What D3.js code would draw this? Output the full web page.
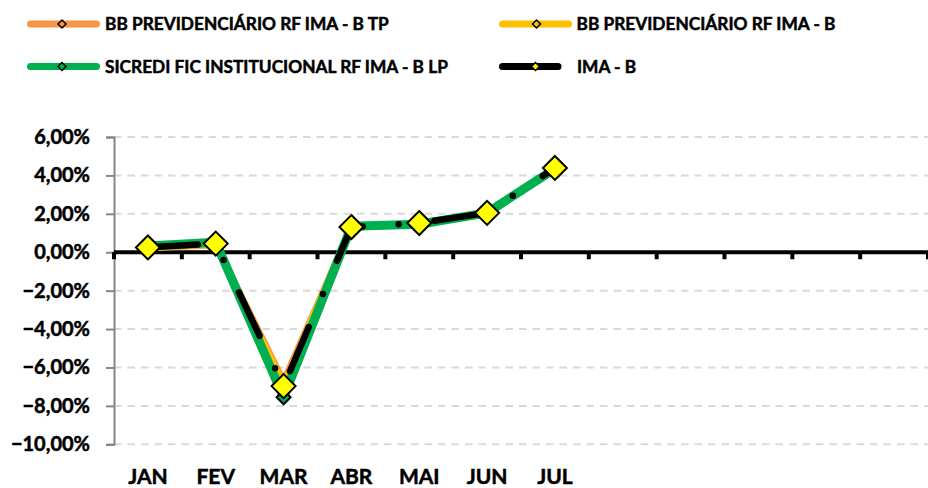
<!DOCTYPE html>
<html>
<head>
<meta charset="utf-8">
<script src="https://cdn.jsdelivr.net/npm/d3@7"></script>
<style>
  body { margin: 0; background: #fff; }
  text { font-family: Lato, "Open Sans", sans-serif; font-weight: bold; fill: #000; stroke: #000; stroke-width: 0.5px; }
</style>
</head>
<body>
<div id="chart"></div>
<script>
const WIDTH = 928,
  HEIGHT = 488;

// months on the category axis (12 slots, only Jan-Jul labelled)
const months = ["JAN", "FEV", "MAR", "ABR", "MAI", "JUN", "JUL", "", "", "", "", ""];
const yTicks = [6, 4, 2, 0, -2, -4, -6, -8, -10];

// monthly returns, %
const bbTP = [0.22, 0.40, -6.75, 1.30, 1.50, 2.00, 4.35];
const bbIMAB = [0.23, 0.43, -6.95, 1.29, 1.51, 2.03, 4.36];
const sicredi = [0.33, 0.52, -7.55, 1.35, 1.46, 2.05, 4.35];
const imaB = [0.25, 0.45, -6.97, 1.31, 1.52, 2.05, 4.39];

const seriesNames = [
  "BB PREVIDENCIÁRIO RF IMA - B TP",
  "BB PREVIDENCIÁRIO RF IMA - B",
  "SICREDI FIC INSTITUCIONAL RF IMA - B LP",
  "IMA - B"
];

const series = [
  { name: seriesNames[0], values: bbTP, color: "#f79646", width: 7, marker: 7, fill: "#f79646" },
  { name: seriesNames[1], values: bbIMAB, color: "#ffc000", width: 7, marker: 7, fill: "#ffc000" },
  { name: seriesNames[2], values: sicredi, color: "#00b050", width: 9, marker: 7, fill: "#00b050" },
  { name: seriesNames[3], values: imaB, color: "#000000", width: 6.5, marker: 12, fill: "#ffff00", dash: true }
];

const plot = { left: 114, right: 928, top: 137, bottom: 444.3 };

var svg = d3
  .select("#chart")
  .append("svg")
  .attr("width", WIDTH)
  .attr("height", HEIGHT);

var x = d3
  .scaleBand()
  .domain(d3.range(months.length))
  .range([plot.left, plot.right]);

var y = d3.scaleLinear().domain([-10, 6]).range([plot.bottom, plot.top]);

// dashed gridlines
svg
  .append("g")
  .selectAll("line")
  .data(yTicks.filter(function(d) { return d !== 0; }))
  .enter()
  .append("line")
  .attr("x1", plot.left)
  .attr("x2", plot.right)
  .attr("y1", function(d) { return y(d); })
  .attr("y2", function(d) { return y(d); })
  .attr("stroke", "#d9d9d9")
  .attr("stroke-width", 2)
  .attr("stroke-dasharray", "7.5,6");

// value axis
var yAxis = svg
  .append("g")
  .attr("transform", "translate(" + plot.left + ",0)")
  .call(
    d3.axisLeft(y)
      .tickValues(yTicks)
      .tickSize(8)
      .tickPadding(16)
      .tickFormat(function(d) { return d3.format(".2f")(d).replace(".", ",") + "%"; })
  );
yAxis.select(".domain").attr("stroke", "#868686").attr("stroke-width", 2);
yAxis.selectAll(".tick line").attr("stroke", "#868686").attr("stroke-width", 2);
yAxis.selectAll(".tick text").attr("font-size", 20).attr("font-family", "Lato").attr("font-weight", "bold").attr("fill", "#000");

// category axis sits on the zero line
var zeroY = y(0);
var boundaries = d3.range(months.length + 1).map(function(i) {
  return plot.left + i * x.step();
});
svg
  .append("g")
  .selectAll("line")
  .data(boundaries)
  .enter()
  .append("line")
  .attr("x1", function(d) { return d; })
  .attr("x2", function(d) { return d; })
  .attr("y1", zeroY)
  .attr("y2", zeroY + 7)
  .attr("stroke", "#000")
  .attr("stroke-width", 4);
svg
  .append("line")
  .attr("x1", plot.left)
  .attr("x2", plot.right)
  .attr("y1", zeroY)
  .attr("y2", zeroY)
  .attr("stroke", "#000")
  .attr("stroke-width", 4);

// month labels at the bottom
svg
  .append("g")
  .selectAll("text")
  .data(months)
  .enter()
  .append("text")
  .attr("x", function(d, i) { return x(i) + x.bandwidth() / 2; })
  .attr("y", 484)
  .attr("text-anchor", "middle")
  .attr("font-size", 21)
  .text(function(d) { return d; });

function diamond(sel, r, fill, sw) {
  sel
    .attr("d", "M0," + -r + "L" + r + ",0L0," + r + "L" + -r + ",0Z")
    .attr("fill", fill)
    .attr("stroke", "#000")
    .attr("stroke-width", sw)
    .attr("stroke-linejoin", "miter");
}

var line = d3
  .line()
  .x(function(d, i) { return x(i) + x.bandwidth() / 2; })
  .y(function(d) { return y(d); });

series.forEach(function(s) {
  var path = svg
    .append("path")
    .datum(s.values)
    .attr("d", line)
    .attr("fill", "none")
    .attr("stroke", s.color)
    .attr("stroke-width", s.width)
    .attr("stroke-linejoin", "round")
    .attr("stroke-linecap", "round");
  if (s.dash) {
    path.attr("stroke-dasharray", "48,36,0,36").attr("stroke-dashoffset", 118);
  }
});

// markers drawn above all lines
series.forEach(function(s) {
  svg
    .append("g")
    .selectAll("path")
    .data(s.values)
    .enter()
    .append("path")
    .attr("transform", function(d, i) {
      return "translate(" + (x(i) + x.bandwidth() / 2) + "," + y(d) + ")";
    })
    .call(diamond, s.marker, s.fill, 2);
});

// legend
var legendItems = [
  { lx: 27, lx2: 100, mx: 62, tx: 105, ty: 24 },
  { lx: 499, lx2: 572, mx: 536.5, tx: 576.5, ty: 24 },
  { lx: 27, lx2: 100, mx: 62, tx: 105, ty: 66.5 },
  { lx: 499, lx2: 561.5, mx: 535.5, tx: 577, ty: 66.5 }
];
var legend = svg.append("g").attr("class", "legend");
series.forEach(function(s, i) {
  var p = legendItems[i];
  legend
    .append("line")
    .attr("x1", p.lx + 3.5)
    .attr("x2", p.lx2 - 3.5)
    .attr("y1", p.ty)
    .attr("y2", p.ty)
    .attr("stroke", s.color)
    .attr("stroke-width", 7)
    .attr("stroke-linecap", "round");
  legend
    .append("path")
    .attr("transform", "translate(" + p.mx + "," + p.ty + ")")
    .call(diamond, 4, s.fill, 1.5);
  legend
    .append("text")
    .attr("x", p.tx)
    .attr("y", p.ty)
    .attr("dy", "0.35em")
    .attr("font-size", 17.3)
    .text(s.name);
});
</script>
</body>
</html>
